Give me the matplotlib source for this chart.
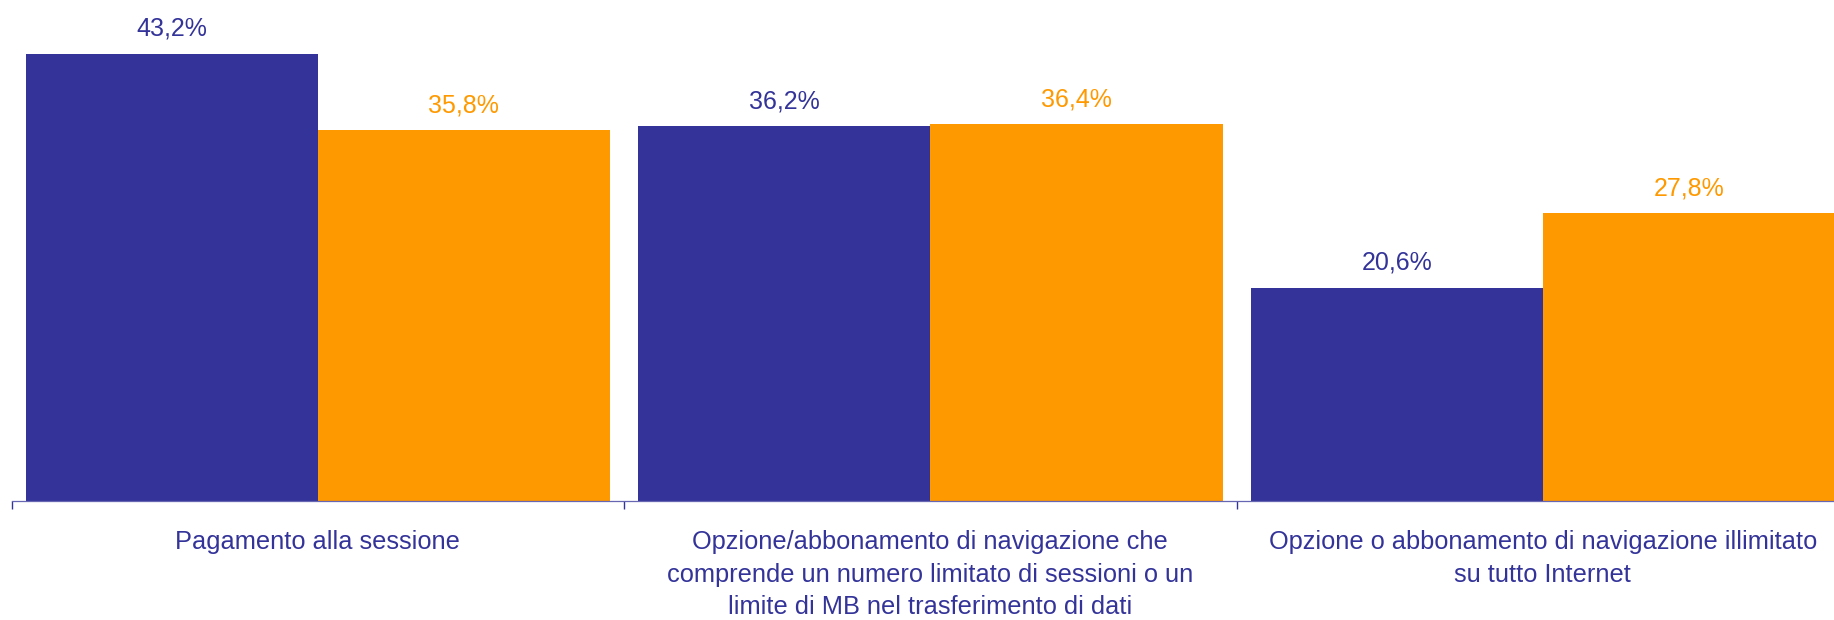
import numpy as np
import matplotlib
matplotlib.use('Agg')
import matplotlib.pyplot as plt

# Data
categories = ['Pagamento alla sessione',
              'Opzione/abbonamento di navigazione che\ncomprende un numero limitato di sessioni o un\nlimite di MB nel trasferimento di dati',
              'Opzione o abbonamento di navigazione illimitato\nsu tutto Internet']
serie_blu = [43.2, 36.2, 20.6]
serie_arancio = [35.8, 36.4, 27.8]

blu = '#333399'
arancio = '#FF9900'

plt.rcParams['font.family'] = ['Liberation Sans', 'DejaVu Sans']

fig = plt.figure(figsize=(18.34, 6.2), dpi=100)
ax = fig.add_axes([11.6 / 1834, 119 / 620, 1837.5 / 1834, 501 / 620])

x = np.arange(len(categories))
w = 0.477
b1 = ax.bar(x - 0.2385, serie_blu, w, color=blu)
b2 = ax.bar(x + 0.2385, serie_arancio, w, color=arancio)

def etichette(bars, vals, col):
    for b, v in zip(bars, vals):
        ax.annotate(f'{v:.1f}%'.replace('.', ','),
                    (b.get_x() + b.get_width() / 2, b.get_height()),
                    xytext=(0, 13), textcoords='offset points',
                    ha='center', va='baseline', fontsize=18, color=col)

etichette(b1, serie_blu, blu)
etichette(b2, serie_arancio, arancio)

ax.set_xlim(-0.5, 2.5)
ax.set_ylim(0, 48.4)

ax.set_xticks(x)
ax.set_xticklabels(categories, fontsize=18.3, color=blu, linespacing=1.45, va='top')
ax.tick_params(axis='x', which='major', length=0, pad=21)
ax.set_xticks([-0.5, 0.5, 1.5, 2.5], minor=True)
ax.tick_params(axis='x', which='minor', length=6, width=1, color=blu, direction='out')
ax.set_yticks([])

for s in ['top', 'right', 'left']:
    ax.spines[s].set_visible(False)
ax.spines['bottom'].set_color('#6666b3')
ax.spines['bottom'].set_linewidth(0.9)

fig.savefig('out.png', dpi=100)
